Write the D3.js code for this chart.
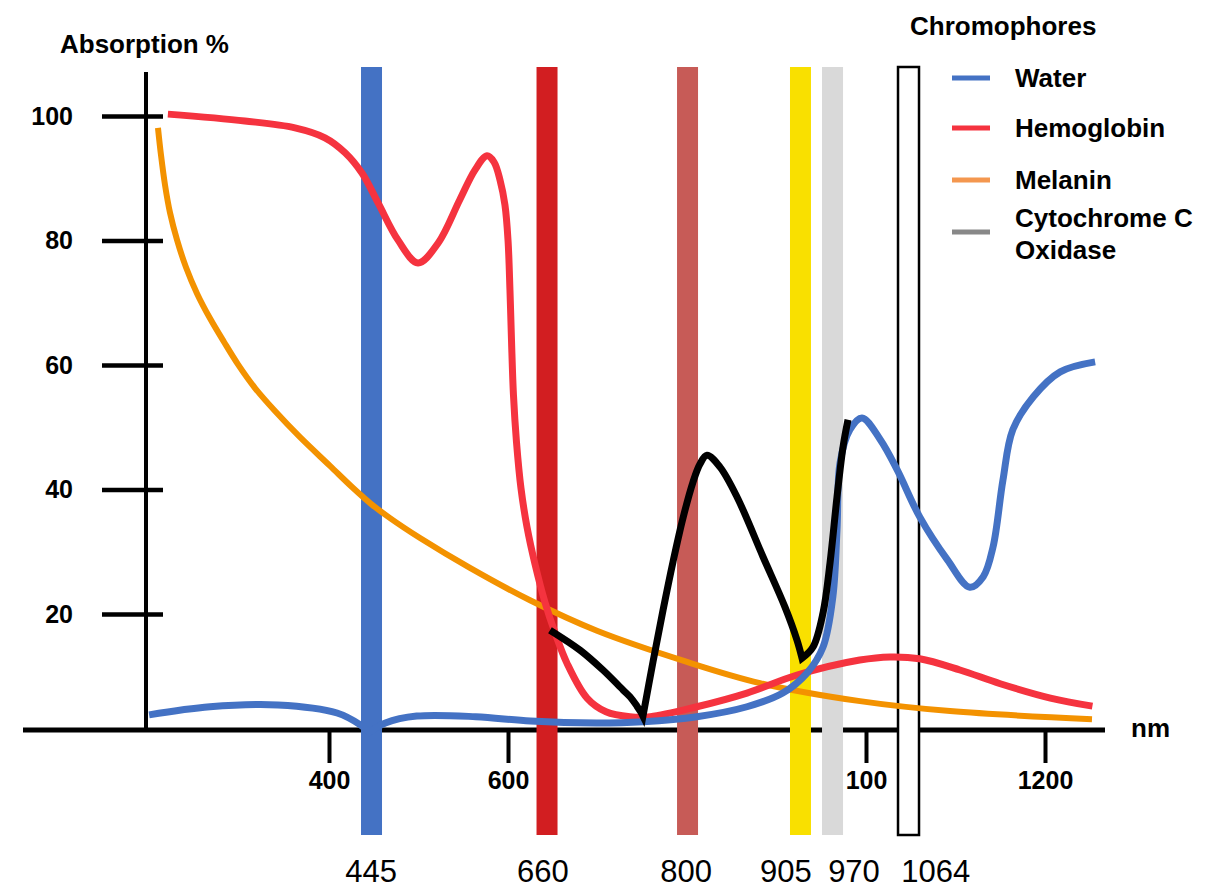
<!DOCTYPE html>
<html>
<head>
<meta charset="utf-8">
<script src="https://cdn.jsdelivr.net/npm/d3@7"></script>
<style>
  body { margin: 0; background: #fff; }
  svg { display: block; font-family: "Liberation Sans", Arial, Helvetica, sans-serif; }
</style>
</head>
<body>
<svg id="chart" width="1227" height="890"></svg>
<script>
// absorption curves, [wavelength nm, absorption %]
var water = [[199, 3.8], [267, 5.1], [343, 5.4], [409, 4.1], [435, 2.2], [445, 1.0], [463, 2.5],
  [498, 3.6], [564, 3.5], [625, 2.8], [699, 2.5], [751, 2.7], [811, 3.5], [867, 5.1], [907, 7.3],
  [934, 10.5], [952, 14.7], [963, 22.8], [967.6, 33.5], [971, 44.3], [982, 49.6], [995.5, 51.5],
  [1016, 48.0], [1035, 43.1], [1060, 35.6], [1091, 28.7], [1116, 24.3], [1131, 26.0], [1142, 30.8],
  [1153, 41.5], [1164, 49.6], [1187, 54.9], [1217, 58.9], [1256, 60.5]];
var hemoglobin = [[220, 100.3], [306, 99.2], [362, 98.1], [395.5, 96.5], [418, 94.1], [437, 90.8],
  [455, 86.0], [477, 80.1], [499.4, 76.4], [522, 79.6], [546, 86.5], [563, 91.3], [576.5, 93.6],
  [584.4, 92.6], [591.1, 89.7], [596.6, 85.7], [600, 80.1], [602.2, 72.0], [603.9, 64.0],
  [606.1, 55.2], [609.5, 47.6], [614.5, 40.2], [621.2, 34.0], [630.2, 28.0], [641.3, 21.9],
  [652.5, 17.0], [665.9, 12.1], [688.3, 6.5], [709.5, 4.3], [736.3, 3.5], [759, 3.5], [811, 5.1],
  [867, 7.3], [923, 10.2], [993, 12.6], [1027, 13.1], [1060, 12.8], [1105, 11.0], [1150, 8.8],
  [1206, 6.5], [1253, 5.2]];
var melanin = [[208.9, 98.1], [212.3, 93.7], [216.8, 88.9], [222.3, 84.5], [230.2, 80.1],
  [240.2, 75.7], [252.5, 71.5], [267, 67.5], [282.7, 63.7], [298.3, 60.1], [317.3, 56.3],
  [339.7, 52.6], [367.6, 48.4], [401.1, 43.8], [425.7, 40.4], [446.9, 37.7], [468.2, 35.4],
  [501.7, 32.2], [557.5, 27.4], [624.6, 22.2], [699.4, 17.3], [800, 12.3], [881.6, 8.9],
  [993.3, 6.0], [1093.9, 4.4], [1252.5, 3.1]];
var cytochrome = [[646.9, 17.4], [680.4, 14.2], [706.1, 11.0], [728.5, 7.8], [736.3, 6.7],
  [744.1, 5.2], [748.6, 4.2], [750.8, 3.6], [762, 12.3], [773.2, 20.6], [784.4, 28.4],
  [795.5, 35.4], [806.7, 41.2], [814.5, 44.1], [822.3, 45.5], [836.9, 43.6], [855.9, 38.8],
  [884.9, 29.2], [909.5, 21.1], [922.9, 15.8], [928.5, 12.9], [940.8, 14.7], [952, 20.2],
  [959.8, 28.2], [967.6, 38.8], [974.3, 46.8], [979.9, 51.2]];

// sharp corners in the curves (nm)
var waterCusps = [445];
var cytochromeCusps = [750.8, 928.5];

// laser wavelength bands
var bandLabels = ["445", "660", "800", "905", "970", "1064"];
var bandNm = [447.5, 643.6, 800.6, 926.8, 962.6, 1047.5];
var bandLabelNm = [447, 639, 799, 910.6, 986.6, 1078];

var yTicks = [20, 40, 60, 80, 100];
var xTicks = [400, 600, 1000, 1200];
var xTickLabels = ["400", "600", "100", "1200"];

var legendNames = [["Water"], ["Hemoglobin"], ["Melanin"], ["Cytochrome C", "Oxidase"]];

var bandColors = ["#4472C4", "#D21E21", "#C75B57", "#F9E000", "#D9D9D9", "#FFFFFF"];
var lineColors = ["#4472C4", "#F5333F", "#F39200", "#000000"];
var legendColors = ["#4472C4", "#F5333F", "#F4974F", "#888888"];

var svg = d3.select("#chart");

var x = d3.scaleLinear().domain([400, 1200]).range([329, 1045]);
var y = d3.scaleLinear().domain([0, 100]).range([738.5, 116]);

var axisY = 730, axisX = 146;

// x axis line
svg.append("line")
  .attr("x1", 23).attr("x2", 1105)
  .attr("y1", axisY).attr("y2", axisY)
  .attr("stroke", "#000").attr("stroke-width", 5);

svg.append("g")
  .attr("transform", "translate(0," + (axisY + 2) + ")")
  .call(d3.axisBottom(x).tickValues(xTicks)
    .tickFormat(function (d, i) { return xTickLabels[i]; })
    .tickSize(31).tickPadding(8))
  .call(function (g) {
    g.select(".domain").remove();
    g.selectAll(".tick line").attr("stroke", "#000").attr("stroke-width", 4);
    g.selectAll(".tick text").attr("fill", "#000")
      .style("font-size", "25px").style("font-weight", "bold")
      .style("font-family", '"Liberation Sans", Arial, sans-serif');
  });

// y axis
svg.append("line")
  .attr("x1", axisX).attr("x2", axisX)
  .attr("y1", 72).attr("y2", axisY)
  .attr("stroke", "#000").attr("stroke-width", 4);

svg.append("g")
  .attr("transform", "translate(" + axisX + ",0)")
  .call(d3.axisLeft(y).tickValues(yTicks).tickSize(0))
  .call(function (g) {
    g.select(".domain").remove();
    g.selectAll(".tick").append("line")
      .attr("x1", -44).attr("x2", 17)
      .attr("stroke", "#000").attr("stroke-width", 4.5);
    g.selectAll(".tick text").attr("x", -73).attr("fill", "#000")
      .style("font-size", "25px").style("font-weight", "bold")
      .style("font-family", '"Liberation Sans", Arial, sans-serif');
  });

svg.append("text")
  .attr("x", 60).attr("y", 53)
  .style("font-size", "26px").style("font-weight", "bold")
  .text("Absorption %");

svg.append("text")
  .attr("x", 1131).attr("y", 737)
  .style("font-size", "26px").style("font-weight", "bold")
  .text("nm");

// bands
var bandW = 21;
svg.append("g").selectAll("rect")
  .data(bandNm)
  .enter().append("rect")
  .attr("x", function (d) { return x(d) - bandW / 2; })
  .attr("y", 67)
  .attr("width", bandW)
  .attr("height", 768)
  .attr("fill", function (d, i) { return bandColors[i]; })
  .attr("stroke", function (d, i) { return i === 5 ? "#000" : "none"; })
  .attr("stroke-width", 2.5);

svg.append("g").selectAll("text")
  .data(bandLabelNm)
  .enter().append("text")
  .attr("x", function (d) { return x(d); })
  .attr("y", 882)
  .attr("text-anchor", "middle")
  .style("font-size", "31px")
  .text(function (d, i) { return bandLabels[i]; });

// curves
var line = d3.line()
  .x(function (d) { return x(d[0]); })
  .y(function (d) { return y(d[1]); })
  .curve(d3.curveCatmullRom.alpha(0.5));

// draw each stretch between corners smoothly, joined with a sharp miter
function cuspPath(points, cusps) {
  var pieces = [], cur = [];
  points.forEach(function (p) {
    cur.push(p);
    if (cusps.indexOf(p[0]) >= 0) { pieces.push(cur); cur = [p]; }
  });
  pieces.push(cur);
  return pieces.map(function (pc, i) {
    var d = line(pc);
    return i ? d.replace(/^M[^A-Za-z]*/, "") : d;
  }).join("");
}

var series = [
  {data: melanin, cusps: [], color: lineColors[2], w: 6},
  {data: hemoglobin, cusps: [], color: lineColors[1], w: 7},
  {data: water, cusps: waterCusps, color: lineColors[0], w: 7},
  {data: cytochrome, cusps: cytochromeCusps, color: lineColors[3], w: 7}
];

svg.append("g").selectAll("path")
  .data(series)
  .enter().append("path")
  .attr("d", function (s) { return cuspPath(s.data, s.cusps); })
  .attr("fill", "none")
  .attr("stroke", function (s) { return s.color; })
  .attr("stroke-width", function (s) { return s.w; })
  .attr("stroke-linejoin", "miter")
  .attr("stroke-miterlimit", 6);

// legend
svg.append("text")
  .attr("x", 910).attr("y", 35)
  .style("font-size", "26px").style("font-weight", "bold")
  .text("Chromophores");

var legendY = [78, 128, 180, 232];
var lg = svg.append("g").selectAll("g")
  .data(legendNames)
  .enter().append("g")
  .attr("transform", function (d, i) { return "translate(0," + legendY[i] + ")"; });

lg.append("line")
  .attr("x1", 952).attr("x2", 990)
  .attr("stroke", function (d, i) { return legendColors[i]; })
  .attr("stroke-width", 5);

lg.append("text")
  .style("font-size", "26px").style("font-weight", "bold")
  .selectAll("tspan")
  .data(function (d) { return d; })
  .enter().append("tspan")
  .attr("x", 1015)
  .attr("y", function (d, i, nodes) { return nodes.length > 1 ? -5 + i * 32 : 9; })
  .text(function (d) { return d; });
</script>
</body>
</html>
